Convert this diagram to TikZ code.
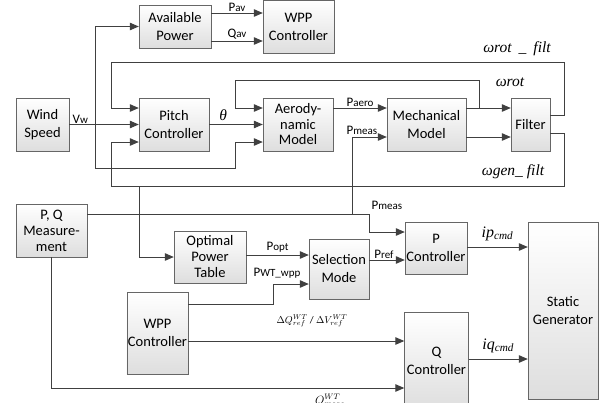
\documentclass[tikz,border=0pt]{standalone}
\usepackage{fontspec}
\setmainfont{Carlito}
\newfontfamily\tnr{Liberation Serif}
\usetikzlibrary{arrows.meta}
\newcommand{\sgl}[2]{#1{\fontsize{11}{11}\selectfont #2}}
\begin{document}
\begin{tikzpicture}[x=1pt,y=-1pt,
  blk/.style={draw=black!60, top color=white, bottom color=black!13, align=center, inner sep=1pt, font=\fontsize{14.5}{18}\selectfont},
  wire/.style={draw=black!75, line width=1pt},
  arr/.style={wire, -{Triangle[length=9pt,width=7.5pt]}},
  sig/.style={font=\fontsize{13}{13}\selectfont, inner sep=1pt},
  ital/.style={font=\tnr\itshape\fontsize{15.5}{15.5}\selectfont, inner sep=1pt}]
\useasboundingbox (0,0) rectangle (602,402);
\node[blk, minimum width=72, minimum height=43] (avail) at (175,26.5) {Available\\Power};
\node[blk, minimum width=71, minimum height=53] (wppT) at (298.5,27) {WPP\\Controller};
\node[blk, minimum width=53, minimum height=53] (wind) at (42.5,124.5) {Wind\\Speed};
\node[blk, minimum width=70, minimum height=53] (pitch) at (174,124.5) {Pitch\\Controller};
\node[blk, minimum width=70, minimum height=53, font=\fontsize{14.5}{15.5}\selectfont] (aero) at (298,124.5) {Aerody-\\namic\\Model};
\node[blk, minimum width=79, minimum height=53] (mech) at (426.5,124.5) {Mechanical\\Model};
\node[blk, minimum width=39, minimum height=53] (filt) at (530.5,124.5) {Filter};
\node[blk, minimum width=71, minimum height=53, font=\fontsize{14.5}{16}\selectfont] (pq) at (51.5,230.5) {P, Q\\Measure-\\ment};
\node[blk, minimum width=72, minimum height=52, font=\fontsize{14.5}{16}\selectfont] (opt) at (210,257) {Optimal\\Power\\Table};
\node[blk, minimum width=61, minimum height=82] (wppB) at (157.5,333) {WPP\\Controller};
\node[blk, minimum width=60, minimum height=60] (sel) at (339,269) {Selection\\Mode};
\node[blk, minimum width=62, minimum height=52] (pctl) at (436,248) {P\\Controller};
\node[blk, minimum width=64, minimum height=98] (qctl) at (436.5,361) {Q\\Controller};
\node[blk, minimum width=70, minimum height=177] (stat) at (563,310.5) {Static\\Generator};

\coordinate (jvw) at (95,124.5);
\draw[arr] (wind) -- (pitch) node[sig, pos=0.16, above] (lvw) {V\sgl{}{w}};
\draw[arr] (jvw) |- (avail.west);
\draw[arr] (jvw) -- (95,168) -- (235,168) -- (235,142) -- (aero.west |- 0,142);
\draw[arr] (avail.east |- 0,13) -- (wppT.west |- 0,13) node[sig, midway, above] (lpav) {P\sgl{}{av}};
\draw[arr] (avail.east |- 0,41) -- (wppT.west |- 0,41) node[sig, midway, above] (lqav) {Q\sgl{}{av}};
\draw[arr] (pitch) -- (aero) node[ital, pos=0.26, above=2pt] (lth) {θ};
\draw[arr] (aero.east |- 0,108) -- (mech.west |- 0,108) node[sig, midway, above] (lpaero) {P\sgl{}{aero}};
\draw[arr] (mech.east |- 0,108) -- (filt.west |- 0,108);
\draw[arr] (479,108) -- (479,80) -- (235,80) -- (235,108) -- (aero.west |- 0,108);
\draw[arr] (mech.east |- 0,137) -- (filt.west |- 0,137);
\draw[arr] (filt.east |- 0,115) -- (564,115) -- (564,62) -- (111,62) -- (111,108) -- (pitch.west |- 0,108);
\draw[arr] (filt.east |- 0,133) -- (564,133) -- (564,186) -- (111,186) -- (111,142) -- (pitch.west |- 0,142);
\draw[arr] (139,186) |- (opt.west);
\node[ital] (lrot) at (510,82) {ωrot};
\node[ital] (lrotf) at (517,49) {ωrot\hspace{7pt}\_\hspace{7pt}filt};
\node[ital] (lgenf) at (513,172) {ωgen\_\hspace{4pt}filt};

\draw[arr] (pq.east |- 0,214) -- (369,214) -- (369,232) -- (pctl.west |- 0,232);
\draw[arr] (352,214) -- (352,137) -- (mech.west |- 0,137);
\node[sig] (lpm1) at (362,130) {P\sgl{}{meas}};
\node[sig] (lpm2) at (387,205) {P\sgl{}{meas}};
\draw[arr] (opt.east |- 0,255) -- (sel.west |- 0,255) node[sig, midway, above=1pt] (lpopt) {P\sgl{}{opt}};
\draw[arr] (wppB.east |- 0,304) -- (273,304) -- (273,284) -- (sel.west |- 0,284);
\node[sig] (lpwt) at (277,273) {P\sgl{}{WT\_wpp}};
\draw[arr] (sel.east |- 0,260) -- (pctl.west |- 0,260) node[sig, midway, above, xshift=-3pt] (lpref) {P\sgl{}{ref}};
\draw[arr] (pctl.east |- 0,247) -- (stat.west |- 0,247) node[ital, midway, above=5pt] (lip) {\fontsize{16}{16}\selectfont ip\textsubscript{cmd}};
\draw[arr] (wppB.east |- 0,341) -- (qctl.west |- 0,341);
\node[font=\fontsize{10}{10}\selectfont, inner sep=1pt] (ldq) at (312,321) {$\Delta Q_{ref}^{WT}$ / $\Delta V_{ref}^{WT}$};
\draw[arr] (qctl.east |- 0,359) -- (stat.west |- 0,359) node[ital, midway, above=5pt] (liq) {\fontsize{16}{16}\selectfont iq\textsubscript{cmd}};
\draw[arr] (pq.south) |- (qctl.west |- 0,388);
\node[font=\fontsize{12}{12}\selectfont, anchor=north, inner sep=1pt] (lqm) at (330,393) {$Q_{meas}^{WT}$};
\end{tikzpicture}
\end{document}
